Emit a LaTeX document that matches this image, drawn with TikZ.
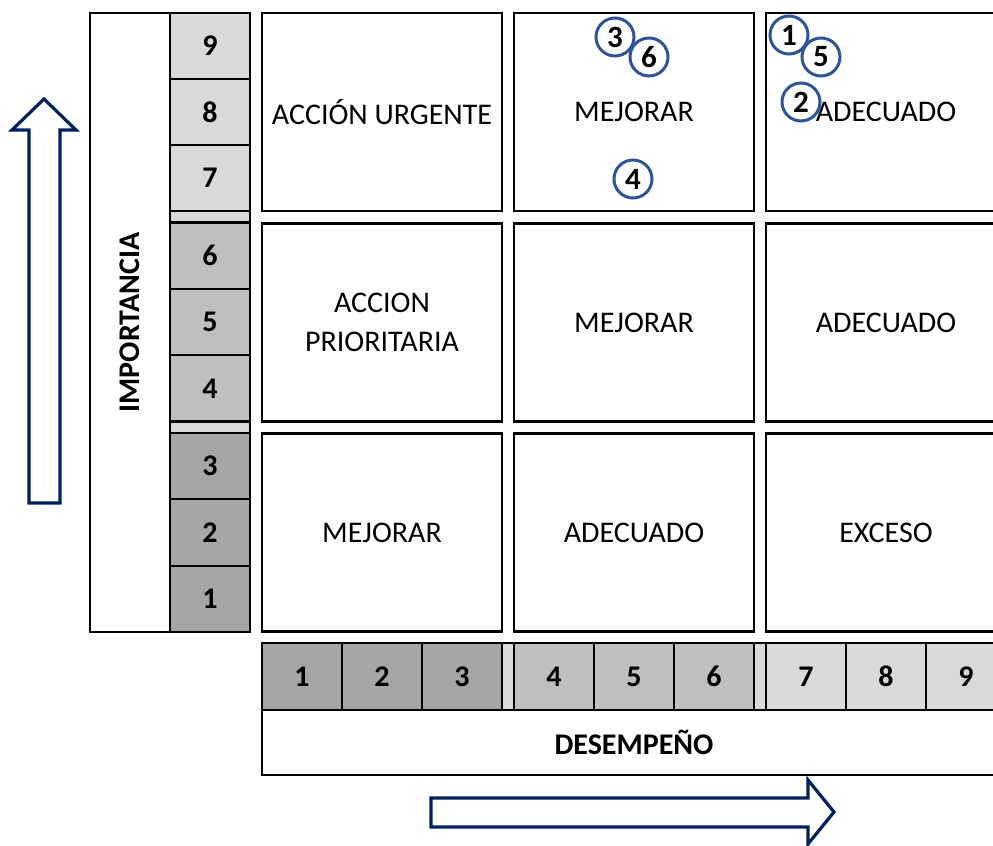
\documentclass[tikz,border=0pt]{standalone}
\usepackage{fontspec}
\setmainfont{Carlito}
\usepackage{tikz}

\definecolor{navy}{RGB}{0,32,96}
\definecolor{ringblue}{RGB}{47,85,151}
\definecolor{grisA}{RGB}{217,217,217}
\definecolor{grisB}{RGB}{191,191,191}
\definecolor{grisC}{RGB}{166,166,166}

\begin{document}
\begin{tikzpicture}[x=0.5pt,y=-0.5pt,
  zona/.style={draw,line width=1.1pt,minimum width=120pt,minimum height=99pt,
    inner sep=0pt,align=center,font=\fontsize{15}{19.5}\selectfont},
  celda/.style={draw,line width=1.1pt,minimum width=40pt,minimum height=33.2pt,
    inner sep=0pt,font=\fontsize{15}{17}\selectfont\bfseries},
  hueco/.style={draw,line width=1.1pt,fill=grisA},
  punto/.style={draw=ringblue,line width=1.5pt,circle,fill=white,minimum size=19pt,
    inner sep=0pt,font=\fontsize{15.5}{17}\selectfont\bfseries},
  flecha/.style={draw=navy,line width=1.6pt,line join=miter}]
  \clip (0,0) rectangle (993,846);
  \fill[white] (0,0) rectangle (993,846);
  % importancia
  \node[draw,line width=1.1pt,minimum width=40pt,minimum height=309.5pt,inner sep=0pt] (imp) at (130,322.5) {};
  \node[rotate=90,font=\fontsize{15}{17}\selectfont\bfseries] (implabel) at (imp.center) {IMPORTANCIA};
  \draw[hueco] (170,211) rectangle (250,222.5);
  \draw[hueco] (170,421.5) rectangle (250,433);
  \foreach \n/\y/\c in {9/46/grisA,8/112/grisA,7/178/grisA,
                        6/255.7/grisB,5/322/grisB,4/388.3/grisB,
                        3/466.2/grisC,2/532.5/grisC,1/598.8/grisC}
    \node[celda,fill=\c] (v\n) at (210,\y) {\n};
  % desempeno
  \draw[hueco] (502,643) rectangle (514,710);
  \draw[hueco] (754,643) rectangle (766,710);
  \foreach \n/\x/\c in {1/302/grisC,2/382/grisC,3/462/grisC,
                        4/554/grisB,5/634/grisB,6/714/grisB,
                        7/806/grisA,8/886/grisA,9/966/grisA}
    \node[celda,fill=\c] (h\n) at (\x,676.5) {\n};
  \node[draw,line width=1.1pt,minimum width=372pt,minimum height=32.5pt,inner sep=0pt,
    font=\fontsize{15}{17}\selectfont\bfseries] (des) at (634,742.5) {DESEMPEÑO};
  % matriz
  \node[zona] (z11) at (382,112) {ACCIÓN URGENTE};
  \node[zona] (z12) at (634,112) {MEJORAR};
  \node[zona] (z13) at (886,112) {ADECUADO};
  \node[zona] (z21) at (382,322.5) {ACCION\\PRIORITARIA};
  \node[zona] (z22) at (634,322.5) {MEJORAR};
  \node[zona] (z23) at (886,322.5) {ADECUADO};
  \node[zona] (z31) at (382,532.5) {MEJORAR};
  \node[zona] (z32) at (634,532.5) {ADECUADO};
  \node[zona] (z33) at (886,532.5) {EXCESO};
  % puntos
  \node[punto] (p3) at (615,37) {3};
  \node[punto] (p6) at (649,57) {6};
  \node[punto] (p4) at (633,179) {4};
  \node[punto] (p1) at (789,35) {1};
  \node[punto] (p5) at (821,57) {5};
  \node[punto] (p2) at (801,102) {2};
  % flechas
  \draw[flecha] (29,503) -- (29,130) -- (12,130) -- (44,99) -- (76,130) -- (60,130) -- (60,503) -- cycle;
  \draw[flecha] (431,798) -- (808,798) -- (808,780) -- (834,812) -- (808,844) -- (808,827) -- (431,827) -- cycle;
\end{tikzpicture}
\end{document}
